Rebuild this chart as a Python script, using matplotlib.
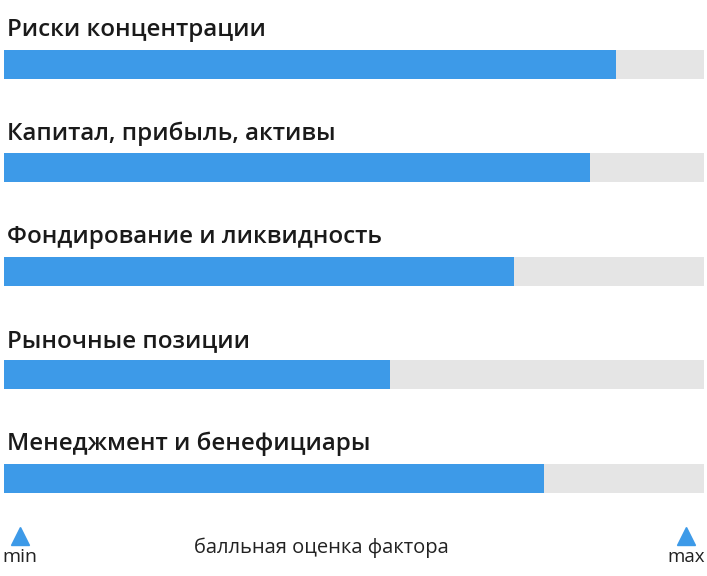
import matplotlib.pyplot as plt

# factor scores (0..100 scale)
factors = ["Риски концентрации", "Капитал, прибыль, активы",
           "Фондирование и ликвидность", "Рыночные позиции",
           "Менеджмент и бенефициары"]
scores = [87.4, 83.7, 72.9, 55.1, 77.1]
max_score = 100

blue = "#3d9ae8"
track = "#e5e5e5"

plt.rcParams['font.family'] = ['Open Sans', 'DejaVu Sans']

fig = plt.figure(figsize=(7.07, 5.76), dpi=100)
# axes spans the bar track horizontally and whole height vertically
ax = fig.add_axes([4 / 707, 0, 700 / 707, 1])
step = 103.6  # pixel spacing between rows
ax.set_ylim((576 - 64) / step, -64 / step)
ax.set_xlim(0, max_score)
ax.axis("off")

pos = range(len(factors))
ax.barh(pos, [max_score] * len(factors), height=29 / step, color=track, left=0)
ax.barh(pos, scores, height=29 / step, color=blue)

for i, name in zip(pos, factors):
    ax.text(0.4, i - 28 / step, name, fontsize=17.4, fontweight="semibold",
            color="#1a1a1a", va="baseline", ha="left")

# min / max markers
tri_y = (536 - 64) / step
ax.plot([2.3, 97.4], [tri_y, tri_y], linestyle="none", marker="^",
        markersize=13, color=blue, clip_on=False)
ax.text(2.3, (562 - 64) / step, "min", fontsize=14, color="#222222",
        ha="center", va="baseline")
ax.text(97.4, (562 - 64) / step, "max", fontsize=13.5, color="#222222",
        ha="center", va="baseline")
ax.text(45.4, (553 - 64) / step, "балльная оценка фактора", fontsize=14.5,
        color="#222222", ha="center", va="baseline")

fig.savefig("out.png", dpi=100)
